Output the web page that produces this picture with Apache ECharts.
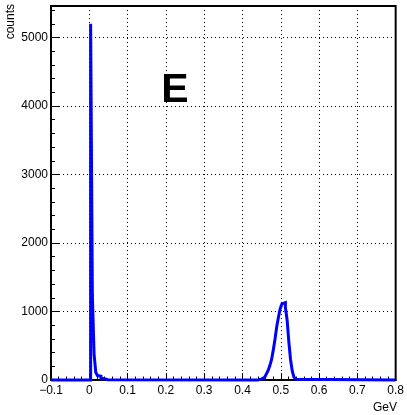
<!DOCTYPE html>
<html lang="en">
<head>
    <meta charset="UTF-8">
    <title>E</title>
    <script src="https://cdn.jsdelivr.net/npm/echarts@6/dist/echarts.min.js"></script>
    <style>
        html, body { margin: 0; padding: 0; background: #fff; }
        #main { width: 407px; height: 415px; }
    </style>
</head>
<body>
<div id="main"></div>
<script>
    // histogram bins (low edge, counts), bin width 0.0045 GeV
    var binWidth = 0.0045;
    var peak1Edges = [0.0035, 0.0080, 0.0125, 0.0170, 0.0215, 0.0260, 0.0305, 0.0350, 0.0395, 0.0440];
    var peak1Counts = [5200, 1235, 375, 110, 65, 55, 25, 20, 12, 5];
    var peak2Edges = [0.4400, 0.4445, 0.4490, 0.4535, 0.4580, 0.4625, 0.4670, 0.4715, 0.4760, 0.4805,
                      0.4850, 0.4895, 0.4940, 0.4985, 0.5030, 0.5075, 0.5120, 0.5165, 0.5210, 0.5255,
                      0.5300, 0.5345, 0.5390];
    var peak2Counts = [8, 12, 20, 40, 60, 90, 140, 210, 300, 440,
                       600, 780, 920, 1040, 1110, 1130, 1060, 880, 560, 300,
                       130, 40, 10];
    var xTicks = [-0.1, 0, 0.1, 0.2, 0.3, 0.4, 0.5, 0.6, 0.7, 0.8];
    var yTicks = [0, 1000, 2000, 3000, 4000, 5000];
    var yMax = 5460;

    // build the step outline
    var outline = [[xTicks[0], 0]];
    function addPeak(edges, counts) {
        for (var i = 0; i < edges.length; i++) {
            outline.push([edges[i], counts[i]]);
        }
        outline.push([edges[edges.length - 1] + binWidth, 0]);
    }
    addPeak(peak1Edges, peak1Counts);
    addPeak(peak2Edges, peak2Counts);
    outline.push([xTicks[xTicks.length - 1], 0]);

    var font = 'Liberation Sans, Arial, Helvetica, sans-serif';
    var myChart = echarts.init(document.getElementById('main'));

    var option = {
        animation: false,
        grid: {
            left: 51, right: 8, top: 6, bottom: 35,
            show: true, borderColor: '#000', borderWidth: 2, backgroundColor: 'transparent'
        },
        xAxis: [{
            type: 'value',
            min: xTicks[0],
            max: xTicks[xTicks.length - 1],
            interval: 0.1,
            axisLine: { show: true, onZero: false, lineStyle: { color: '#000', width: 2 } },
            axisTick: { show: true, inside: true, length: 7, lineStyle: { color: '#000', width: 1 } },
            minorTick: { show: true, splitNumber: 5, length: 3.5, lineStyle: { color: '#000', width: 1 } },
            axisLabel: {
                color: '#000', fontFamily: font, fontSize: 12, margin: 5,
                formatter: function (v) {
                    var s = String(Math.round(v * 10) / 10);
                    return s.replace('-', '\u2212');
                }
            },
            splitLine: { show: true, lineStyle: { color: '#000', type: [1, 3], width: 1 } }
        }],
        yAxis: [{
            type: 'value',
            min: 0,
            max: yMax,
            interval: 1000,
            axisLine: { show: true, onZero: false, lineStyle: { color: '#000', width: 2 } },
            axisTick: { show: true, inside: true, length: 8, lineStyle: { color: '#000', width: 1 } },
            axisLabel: {
                color: '#000', fontFamily: font, fontSize: 12, margin: 3,
                formatter: function (v) {
                    return yTicks.indexOf(v) >= 0 ? String(v) : '';
                }
            },
            splitLine: { show: true, lineStyle: { color: '#000', type: [1, 3], width: 1 } }
        }, {
            // minor ticks only
            type: 'value',
            position: 'left',
            min: 0,
            max: yMax,
            interval: 200,
            axisLine: { show: false, onZero: false },
            axisTick: { show: true, inside: true, length: 4, lineStyle: { color: '#000', width: 1 } },
            axisLabel: { show: false },
            splitLine: { show: false }
        }],
        graphic: [
            {
                type: 'text', x: 11, y: 4, rotation: Math.PI / 2,
                style: { text: 'counts', fontFamily: font, fontSize: 12, fill: '#000',
                         align: 'right', verticalAlign: 'middle' }
            },
            {
                type: 'text', x: 397, y: 408,
                style: { text: 'GeV', fontFamily: font, fontSize: 12, fill: '#000',
                         align: 'right', verticalAlign: 'middle' }
            },
            {
                type: 'text', x: 175, y: 91,
                style: { text: 'E', fontFamily: font, fontSize: 41, fontWeight: 'bold', fill: '#000',
                         align: 'center', verticalAlign: 'middle' }
            }
        ],
        series: [{
            type: 'line',
            step: 'end',
            data: outline,
            showSymbol: false,
            clip: false,
            z: 5,
            lineStyle: { color: '#0000ff', width: 3, join: 'miter', cap: 'butt' }
        }]
    };
    myChart.setOption(option);
</script>
</body>
</html>
